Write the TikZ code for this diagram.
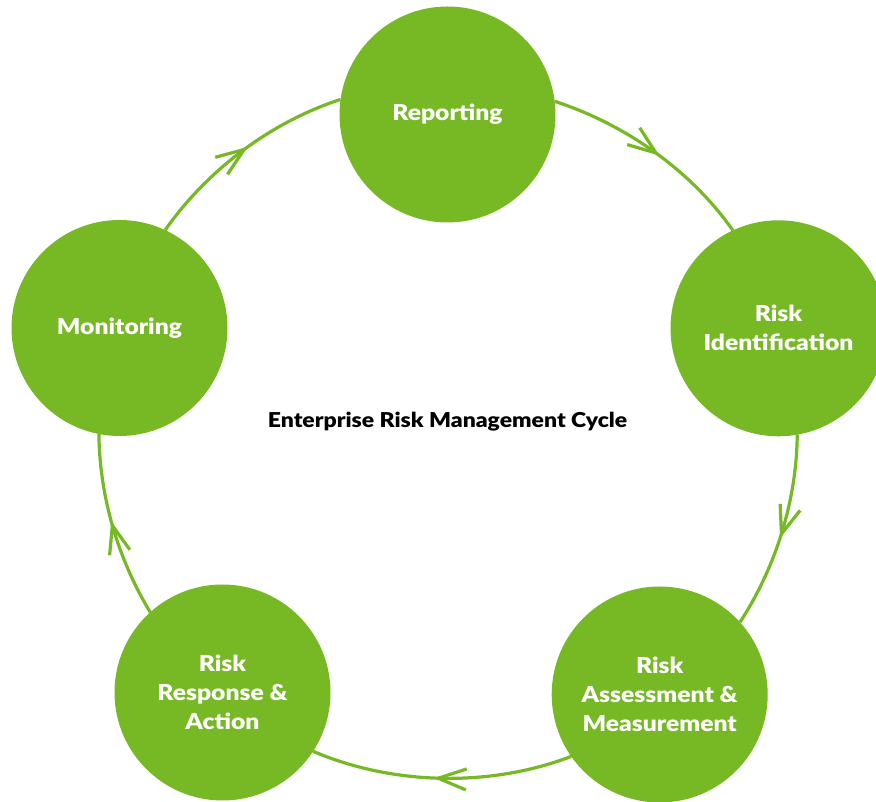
\documentclass[tikz,border=0pt]{standalone}
\usepackage{fontspec}
\setmainfont{Lato}[BoldFont={Lato Black}, BoldFeatures={FakeStretch=1.12}]
\usetikzlibrary{arrows.meta,decorations.markings}
\definecolor{erm}{RGB}{118,185,36}
\begin{document}
\begin{tikzpicture}[x=1pt,y=1pt,
  stage/.style={circle, fill=erm, minimum size=216pt, inner sep=0pt, outer sep=0pt,
    text=white, align=center, font=\fontsize{22}{29}\selectfont\bfseries},
  flow/.style={draw=erm, line width=3.2pt, looseness=0.86, postaction={decorate},
    decoration={markings, mark=at position 0.53 with {\arrow{Straight Barb[length=28pt,width=21pt]}}}},
  titletext/.style={font=\fontsize{20.5}{24}\selectfont\bfseries, text=black, anchor=base}]
\useasboundingbox (0,0) rectangle (876,801);

\node[stage] (R)  at (447.5,686.5) {Reporting};
\node[stage] (RI) at (778.5,472.7) {Risk\\Identification};
\node[stage] (RA) at (659.7,106.5) {Risk\\Assessment \&\\Measurement};
\node[stage] (RR) at (222.5,108.5) {Risk\\Response \&\\Action};
\node[stage] (M)  at (119.5,473)   {Monitoring};

\node[titletext] (T) at (447.5,373.7) {Enterprise Risk Management Cycle};

\draw[flow] (M.65.6)   to[out=54.96,  in=197.97] (R.172.3);
\draw[flow] (R.7.75)   to[out=-17.97, in=125.04] (RI.115.8);
\draw[flow] (RI.-80.7) to[out=-90.6,  in=56.9]   (RA.42.1);
\draw[flow] (RA.215.9) to[out=-159.1, in=-23.1]  (RR.-33.9);
\draw[flow] (RR.132)   to[out=121.2,  in=270.6]  (M.259.2);
\end{tikzpicture}
\end{document}
